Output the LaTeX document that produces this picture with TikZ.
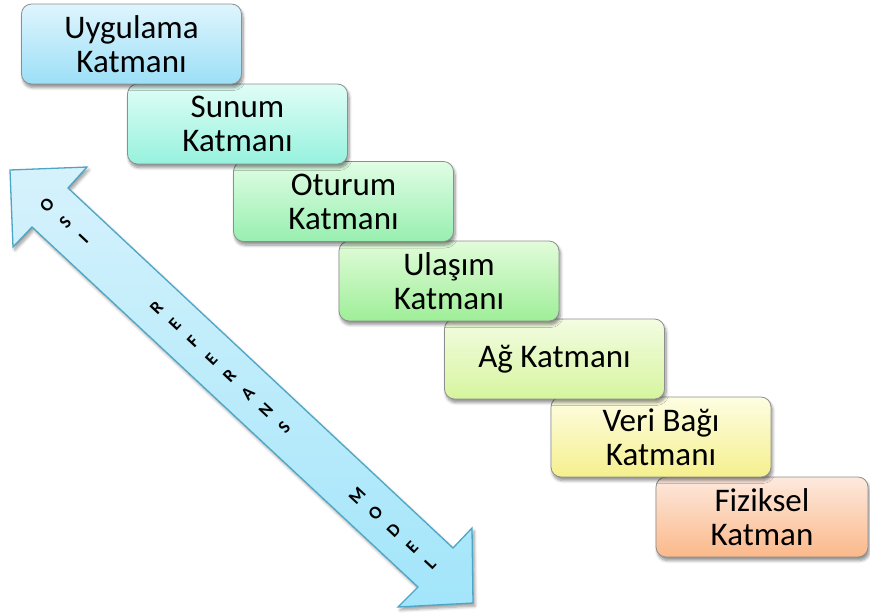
\documentclass[tikz,border=0pt]{standalone}
\usepackage{fontspec}
\setmainfont{Carlito}
\usetikzlibrary{shadows.blur}

\definecolor{bA}{HTML}{DFF5FD}\definecolor{bB}{HTML}{9CDFF7}
\definecolor{cA}{HTML}{E0FDF6}\definecolor{cB}{HTML}{96F2DE}
\definecolor{dA}{HTML}{E0FDE4}\definecolor{dB}{HTML}{98EFB0}
\definecolor{eA}{HTML}{E2FCDA}\definecolor{eB}{HTML}{9EEE98}
\definecolor{fA}{HTML}{F3FCE2}\definecolor{fB}{HTML}{D6F59E}
\definecolor{gA}{HTML}{FDFDE2}\definecolor{gB}{HTML}{F5F08E}
\definecolor{hA}{HTML}{FDE9DE}\definecolor{hB}{HTML}{FBB98A}
\definecolor{arrowTop}{HTML}{D6F2FC}
\definecolor{arrowBot}{HTML}{A2E5FA}
\definecolor{arrowEdge}{HTML}{4EA6C6}
\definecolor{boxEdge}{HTML}{8E8E8E}

\tikzset{
  layer/.style={rectangle, rounded corners=10pt, draw=boxEdge, line width=0.8pt,
    minimum width=220pt, minimum height=80pt, align=center, inner sep=0pt,
    font=\fontsize{33}{34}\selectfont,
    blur shadow={shadow xshift=1.5pt, shadow yshift=-3.5pt, shadow blur radius=3pt,
      shadow blur steps=6, shadow opacity=45}},
  bigarrow/.style={draw=arrowEdge, line width=1.3pt, line join=miter,
    top color=arrowTop, bottom color=arrowBot,
    blur shadow={shadow xshift=2pt, shadow yshift=-3pt, shadow blur radius=3pt,
      shadow blur steps=6, shadow opacity=40}},
  arrowletter/.style={font=\fontsize{18}{18}\selectfont\bfseries, rotate=47, inner sep=0pt}
}

\begin{document}
\begin{tikzpicture}[x=1pt, y=-1pt]
  \useasboundingbox (0,0) rectangle (870,614);

  % double-headed OSI model arrow
  \draw[bigarrow] (10,170) -- (87,167) -- (68,188) -- (453,548) -- (472,528)
    -- (473,603) -- (398,607) -- (418,587) -- (32,227) -- (13,247) -- cycle;

  % stacked lettering along the arrow
  \foreach \ch/\k in {O/0,S/1,I/2,R/6,E/7,F/8,E/9,R/10,A/11,N/12,S/13,M/17,O/18,D/19,E/20,L/21}
    \node[arrowletter] (letter\k) at ({47+18.25*\k},{205+17.1*\k}) {\ch};

  % layer boxes, lowest layer first so upper ones sit on top
  \node[layer, top color=hA, bottom color=hB, minimum width=212pt] (fiziksel) at (762,517) {Fiziksel\\Katman};
  \node[layer, top color=gA, bottom color=gB] (veribagi) at (661,437) {Veri Bağı\\Katmanı};
  \node[layer, top color=fA, bottom color=fB] (ag) at (554.5,359) {Ağ Katmanı};
  \node[layer, top color=eA, bottom color=eB] (ulasim) at (449,281) {Ulaşım\\Katmanı};
  \node[layer, top color=dA, bottom color=dB] (oturum) at (343.5,201.5) {Oturum\\Katmanı};
  \node[layer, top color=cA, bottom color=cB] (sunum) at (237.5,124) {Sunum\\Katmanı};
  \node[layer, top color=bA, bottom color=bB] (uygulama) at (131.5,44) {Uygulama\\Katmanı};
\end{tikzpicture}
\end{document}
